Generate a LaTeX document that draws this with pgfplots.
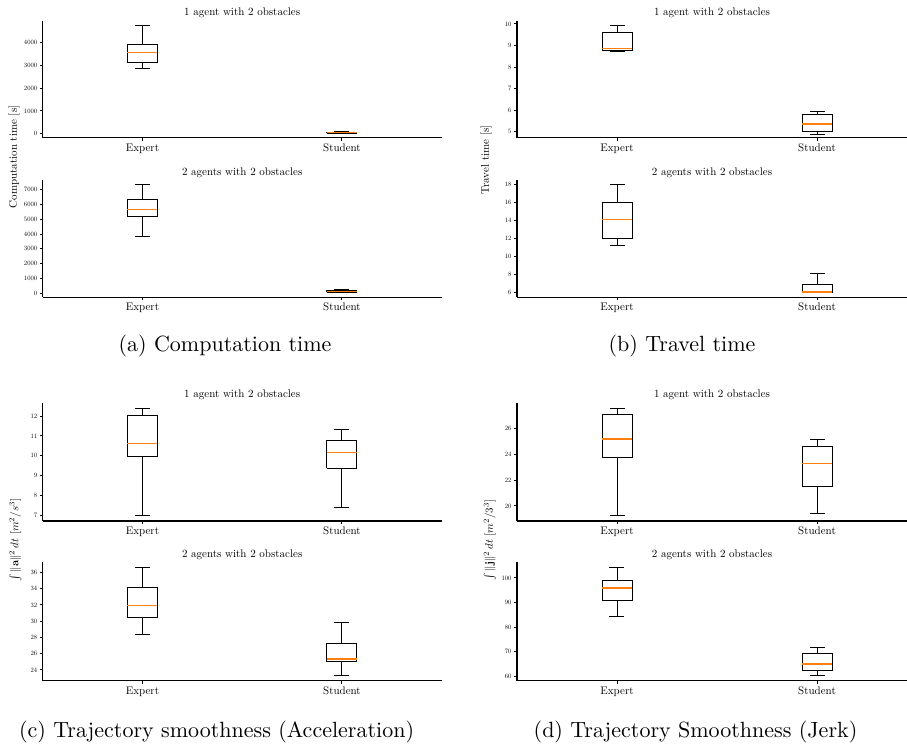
\documentclass[border=0pt]{standalone}
\usepackage{graphicx}
\usepackage{pgfplots}
\pgfplotsset{compat=1.18}
\definecolor{mplorange}{HTML}{FF7F0E}
\newcommand{\sm}[1]{\scalebox{0.5}{#1}}
\pgfplotsset{
  panel/.style={
    scale only axis, anchor=south west,
    axis x line*=bottom, axis y line*=left,
    axis line style={line width=0.6pt, black},
    tick align=outside, major tick length=1.3pt,
    tick style={line width=0.45pt, black},
    xmin=-0.5, xmax=1.5,
    xtick={0,1}, xticklabels={\sm{Expert},\sm{Student}},
    x tick label style={inner sep=1.2pt},
    y tick label style={inner sep=1pt},
    yticklabel={\scalebox{0.3}{\pgfmathprintnumber{\tick}}},
    every axis title shift=0pt,
    title style={at={(0.5,1)}, anchor=south, inner sep=1pt},
    scaled y ticks=false,
    /pgf/number format/1000 sep={},
    /pgf/number format/assume math mode=true,
  },
  leftcol/.style={panel, width=181.24pt},
  rightcol/.style={panel, width=177.16pt, xmax=1.45},
  boxline/.style={black, line width=0.45pt, no markers, line join=miter},
  medline/.style={mplorange, line width=0.6pt, no markers},
}
% lower whisker, lower quartile, median, upper quartile, upper whisker
\newcommand{\bxE}[5]{%
\addplot[boxline] coordinates {(-0.075,#2) (0.075,#2) (0.075,#4) (-0.075,#4) (-0.075,#2)};
\addplot[boxline] coordinates {(0,#2) (0,#1)};
\addplot[boxline] coordinates {(0,#4) (0,#5)};
\addplot[boxline] coordinates {(-0.0375,#1) (0.0375,#1)};
\addplot[boxline] coordinates {(-0.0375,#5) (0.0375,#5)};
\addplot[medline] coordinates {(-0.075,#3) (0.075,#3)};}
\newcommand{\bxS}[5]{%
\addplot[boxline] coordinates {(0.925,#2) (1.075,#2) (1.075,#4) (0.925,#4) (0.925,#2)};
\addplot[boxline] coordinates {(1,#2) (1,#1)};
\addplot[boxline] coordinates {(1,#4) (1,#5)};
\addplot[boxline] coordinates {(0.9625,#1) (1.0375,#1)};
\addplot[boxline] coordinates {(0.9625,#5) (1.0375,#5)};
\addplot[medline] coordinates {(0.925,#3) (1.075,#3)};}
\begin{document}
\begin{tikzpicture}
\path[use as bounding box] (0,0) rectangle (412pt,338.41pt);
% (a) top
\begin{axis}[leftcol, at={(19.40pt,275.86pt)}, height=53.15pt,
  ymin=-170, ymax=4950, ytick={0,1000,2000,3000,4000},
  title={\sm{1 agent with 2 obstacles}}]
\bxE{2850}{3120}{3550}{3910}{4750}
\bxS{25}{35}{50}{75}{95}
\end{axis}
% (a) bottom
\begin{axis}[leftcol, at={(19.40pt,203.37pt)}, height=53.28pt,
  ymin=-270, ymax=7650, ytick={0,1000,2000,3000,4000,5000,6000,7000},
  title={\sm{2 agents with 2 obstacles}}]
\bxE{3850}{5180}{5670}{6300}{7340}
\bxS{45}{70}{110}{180}{225}
\end{axis}
% (b) top
\begin{axis}[rightcol, at={(234.84pt,275.86pt)}, height=53.15pt,
  ymin=4.72, ymax=10.15, ytick={5,6,7,8,9,10},
  title={\sm{1 agent with 2 obstacles}}]
\bxE{8.73}{8.78}{8.86}{9.61}{9.94}
\bxS{4.87}{5.03}{5.35}{5.80}{5.93}
\end{axis}
% (b) bottom
\begin{axis}[rightcol, at={(234.84pt,203.37pt)}, height=53.28pt,
  ymin=5.44, ymax=18.52, ytick={6,8,10,12,14,16,18},
  title={\sm{2 agents with 2 obstacles}}]
\bxE{11.2}{12.0}{14.1}{16.0}{18.0}
\bxS{5.98}{6.0}{6.04}{6.85}{8.04}
\end{axis}
% (c) top
\begin{axis}[leftcol, at={(19.40pt,101.75pt)}, height=53.74pt,
  ymin=6.71, ymax=12.67, ytick={7,8,9,10,11,12},
  title={\sm{1 agent with 2 obstacles}}]
\bxE{6.98}{9.97}{10.61}{12.03}{12.37}
\bxS{7.39}{9.37}{10.17}{10.78}{11.31}
\end{axis}
% (c) bottom
\begin{axis}[leftcol, at={(19.40pt,29.21pt)}, height=53.92pt,
  ymin=22.68, ymax=37.28, ytick={24,26,28,30,32,34,36},
  title={\sm{2 agents with 2 obstacles}}]
\bxE{28.4}{30.45}{31.97}{34.15}{36.62}
\bxS{23.34}{25.03}{25.36}{27.29}{29.84}
\end{axis}
% (d) top
\begin{axis}[rightcol, at={(234.84pt,101.75pt)}, height=53.74pt,
  ymin=18.84, ymax=27.98, ytick={20,22,24,26},
  title={\sm{1 agent with 2 obstacles}}]
\bxE{19.25}{23.71}{25.18}{27.08}{27.52}
\bxS{19.41}{21.52}{23.30}{24.56}{25.12}
\end{axis}
% (d) bottom
\begin{axis}[rightcol, at={(234.84pt,29.21pt)}, height=53.92pt,
  ymin=58.23, ymax=106.5, ytick={60,70,80,90,100},
  title={\sm{2 agents with 2 obstacles}}]
\bxE{84.5}{90.9}{95.9}{99.05}{104.35}
\bxS{60.4}{62.3}{65.0}{69.1}{71.8}
\end{axis}
% y labels
\node[rotate=90, inner sep=0pt] at (6.36pt,267.10pt) {\sm{Computation time [s]}};
\node[rotate=90, inner sep=0pt] at (220.76pt,265.73pt) {\sm{Travel time [s]}};
\node[rotate=90, inner sep=0pt] at (7.04pt,93.12pt) {\sm{$\int \|\mathbf{a}\|^2\,dt$ $[m^2/s^3]$}};
\node[rotate=90, inner sep=0pt] at (222.58pt,93.12pt) {\sm{$\int \|\mathbf{j}\|^2\,dt$ $[m^2/3^3]$}};
% captions
\node[font=\fontsize{10}{12}\selectfont] at (102.20pt,181.24pt) {(a) Computation time};
\node[font=\fontsize{10}{12}\selectfont] at (309.80pt,181.24pt) {(b) Travel time};
\node[font=\fontsize{10}{12}\selectfont] at (98.39pt,5.90pt) {(c) Trajectory smoothness (Acceleration)};
\node[font=\fontsize{10}{12}\selectfont] at (315.93pt,5.90pt) {(d) Trajectory Smoothness (Jerk)};
\end{tikzpicture}
\end{document}
